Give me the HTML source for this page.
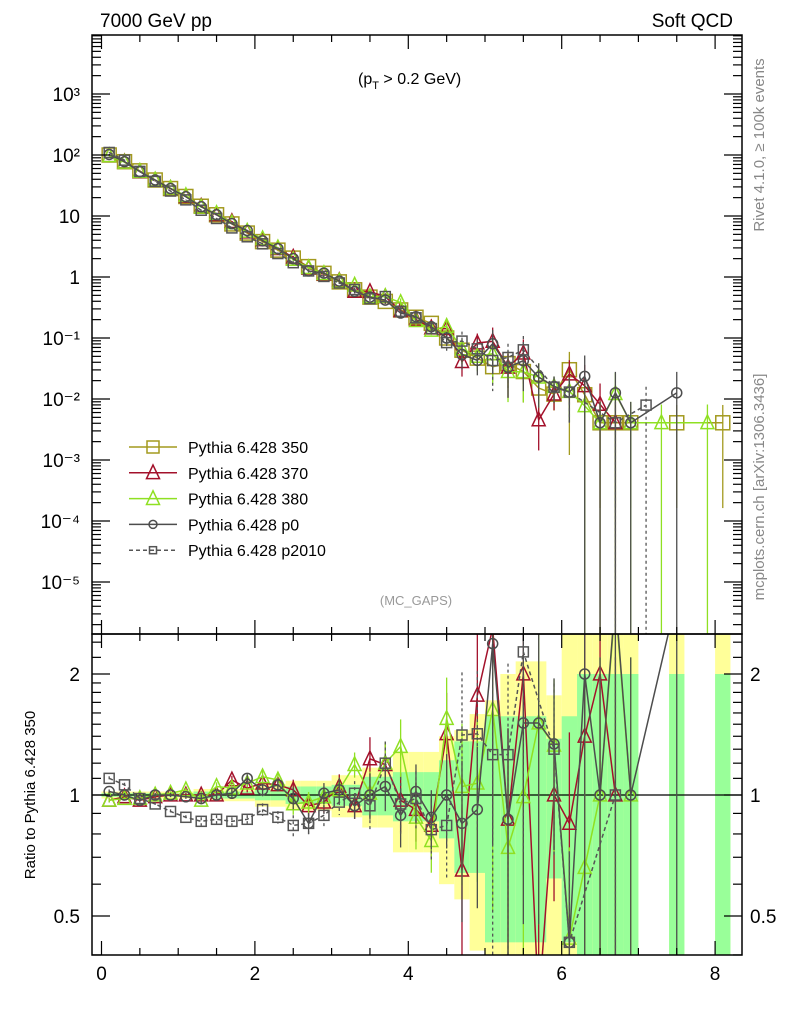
<!DOCTYPE html>
<html><head><meta charset="utf-8"><style>
html,body{margin:0;padding:0;background:#fff;width:786px;height:1024px;overflow:hidden}
svg{display:block;font-family:"Liberation Sans",sans-serif}
</style></head><body>
<svg id="c" width="786" height="1024" viewBox="0 0 786 1024" xmlns="http://www.w3.org/2000/svg">
<defs>
<clipPath id="cm"><rect x="92" y="35" width="650" height="599"/></clipPath>
<clipPath id="cr"><rect x="92" y="634" width="650" height="321"/></clipPath>
</defs>
<g id="bands" clip-path="url(#cr)"></g>
<g id="marks"></g>
<rect x="92" y="35" width="650" height="599" fill="none" stroke="#000" stroke-width="1.5"/>
<rect x="92" y="634" width="650" height="321" fill="none" stroke="#000" stroke-width="1.5"/>
<g id="axes"></g>
<text x="100" y="27" font-size="19">7000 GeV pp</text>
<text x="733" y="27" font-size="19" text-anchor="end">Soft QCD</text>
<text x="358" y="84" font-size="16">(p<tspan font-size="11" dy="5">T</tspan><tspan dy="-5"> &gt; 0.2 GeV)</tspan></text>
<text x="416" y="605" font-size="13" fill="#999" text-anchor="middle">(MC_GAPS)</text>
<text transform="translate(764,145) rotate(-90)" font-size="15" fill="#888" text-anchor="middle">Rivet 4.1.0, ≥ 100k events</text>
<text transform="translate(764,487) rotate(-90)" font-size="15" fill="#888" text-anchor="middle">mcplots.cern.ch [arXiv:1306.3436]</text>
<text transform="translate(35,795) rotate(-90)" font-size="15" text-anchor="middle">Ratio to Pythia 6.428 350</text>
<g id="legend"></g>
</svg>
<script>
const binCenters=[0.1,0.3,0.5,0.7,0.9,1.1,1.3,1.5,1.7,1.9,2.1,2.3,2.5,2.7,2.9,3.1,3.3,3.5,3.7,3.9,4.1,4.3,4.5,4.7,4.9,5.1,5.3,5.5,5.7,5.9,6.1,6.3,6.5,6.7,6.9,7.1,7.3,7.5,7.7,7.9,8.1];
const ref350Log=[2.0,1.89,1.74,1.59,1.45,1.32,1.16,1.02,0.87,0.72,0.58,0.44,0.31,0.17,0.06,-0.08,-0.21,-0.33,-0.40,-0.54,-0.66,-0.76,-1.0,-1.2,-1.33,-1.47,-1.42,-1.55,-1.82,-1.92,-1.52,-1.93,-2.39,-2.39,-2.39,null,null,-2.39,null,null,-2.39];
const statErr=[0.01,0.01,0.01,0.01,0.01,0.01,0.02,0.02,0.02,0.02,0.03,0.03,0.05,0.05,0.05,0.06,0.06,0.11,0.11,0.14,0.14,0.14,0.22,0.36,0.36,0.57,0.57,0.57,0.57,0.38,0.57,1.0,1.0,1.0,1.0,0,0,1.0,0,0,1.0];
const totErr=[0.02,0.02,0.02,0.02,0.02,0.02,0.035,0.035,0.035,0.035,0.065,0.065,0.085,0.085,0.085,0.12,0.12,0.17,0.17,0.28,0.28,0.28,0.40,0.45,0.59,0.72,1.0,1.15,1.15,0.77,1.6,1.6,1.6,1.6,1.6,0,0,1.6,0,0,1.6];
const ratio370=[0.97,0.99,0.97,0.99,1.0,1.0,1.0,1.0,1.09,1.04,1.07,1.06,1.03,0.94,0.96,1.05,0.94,1.23,1.19,0.97,0.92,0.84,1.42,0.65,1.77,2.6,0.87,2.0,0.3,1.0,0.85,1.4,2.0,1.0,null,null,null,null,null,null,null];
const ratio380=[0.97,0.98,0.98,1.0,1.01,1.03,0.97,1.05,1.04,1.07,1.11,1.09,0.95,0.96,0.99,1.03,1.19,1.01,1.2,1.32,0.88,0.77,1.55,1.05,1.07,1.63,0.74,0.99,1.51,1.33,0.44,0.66,1.0,3.0,1.0,null,null,null,null,null,null];
const ratioP0=[1.02,1.0,0.97,1.0,1.0,0.99,0.98,1.0,1.01,1.10,1.03,1.06,0.98,0.85,1.01,1.03,0.94,1.0,1.05,0.89,1.02,0.88,1.0,0.85,0.92,2.38,0.87,1.51,1.51,1.34,0.43,2.0,1.0,3.1,1.0,null,null,3.1,null,null,null];
const ratioP2010=[1.10,1.06,0.98,0.95,0.91,0.88,0.86,0.87,0.86,0.87,0.92,0.88,0.84,0.85,0.89,0.96,1.01,0.94,1.2,0.95,0.98,0.82,0.84,1.41,1.42,1.26,1.26,2.27,null,1.3,0.43,null,null,1.0,null,null,null,null,null,null,null];
const extraMain380=[[7.3,-2.39],[7.9,-2.39]];
const extraMainP2010=[[7.1,-2.1]];
const xTicks=[0,2,4,6,8];
const mainTickExp=[3,2,1,0,-1,-2,-3,-4,-5];
const mainTickLabels=["10³","10²","10","1","10⁻¹","10⁻²","10⁻³","10⁻⁴","10⁻⁵"];
const ratioTicks=[0.5,1,2];
const ratioTickLabels=["0.5","1","2"];

const NS="http://www.w3.org/2000/svg";
const X=x=>101.5+76.7*x;
const YM=L=>277-61*L;
const YR=r=>795-121*Math.log2(r);
function mk(tag,attrs,parent){const e=document.createElementNS(NS,tag);for(const k in attrs)e.setAttribute(k,attrs[k]);parent.appendChild(e);return e;}
const svg=document.getElementById('c');
const marks=document.getElementById('marks');
const axes=document.getElementById('axes');
const gm=mk('g',{'clip-path':'url(#cm)'},marks);


const gr=mk('g',{'clip-path':'url(#cr)'},marks);



const bands=document.getElementById('bands');
binCenters.forEach((x,i)=>{
  if(ref350Log[i]===null)return;
  [[totErr[i],'#ffff99','band-total'],[statErr[i],'#99ff99','band-stat']].forEach(([e,col,nm])=>{
    const lo=Math.max(1-e,0.01), hi=1+e;
    const r=mk('rect',{x:X(x-0.1),y:YR(hi),width:X(x+0.1)-X(x-0.1),height:YR(lo)-YR(hi),fill:col},bands);
    
    
  });
});
const one=mk('line',{x1:92,x2:742,y1:YR(1),y2:YR(1),stroke:'#000','stroke-width':1.2},gr);



function marker(g,type,cx,cy,col,sz){
  let e;
  if(type==='sq')e=mk('rect',{x:cx-sz/2,y:cy-sz/2,width:sz,height:sz,fill:'none',stroke:col,'stroke-width':1.5},g);
  else if(type==='tri')e=mk('polygon',{points:`${cx},${cy-sz*0.6} ${cx-sz/2},${cy+sz*0.45} ${cx+sz/2},${cy+sz*0.45}`,fill:'none',stroke:col,'stroke-width':1.5},g);
  else e=mk('circle',{cx:cx,cy:cy,r:sz/2,fill:'none',stroke:col,'stroke-width':1.5},g);
  return e;
}
function drawSeries(g,pts,col,type,sz,dash,name,yf){
  const sg=mk('g',{},g);
  
  
  let d='';
  pts.forEach(p=>{d+=(d?'L':'M')+X(p.x)+','+yf(p.v)});
  const path=mk('path',{d:d,fill:'none',stroke:col,'stroke-width':1.5},sg);
  if(dash)path.setAttribute('stroke-dasharray','4,3');
  
  
  pts.forEach(p=>{
    const bar=mk('line',{x1:X(p.x),x2:X(p.x),y1:yf(p.hi),y2:yf(p.lo),stroke:col,'stroke-width':1.3},sg);
    if(dash)bar.setAttribute('stroke-dasharray','3,3');
    
    
    const m=marker(sg,type,X(p.x),yf(p.v),col,sz);
    
    
  });
}
const series=[
  {name:'pythia-370',r:ratio370,col:'#a3112b',type:'tri',sz:13,dash:false,extra:[]},
  {name:'pythia-380',r:ratio380,col:'#8fe022',type:'tri',sz:13,dash:false,extra:extraMain380},
  {name:'pythia-p0',r:ratioP0,col:'#4d4d4d',type:'circ',sz:10,dash:false,extra:[]},
  {name:'pythia-p2010',r:ratioP2010,col:'#555',type:'sq',sz:10,dash:true,extra:extraMainP2010}
];
const refPts=[];
binCenters.forEach((x,i)=>{if(ref350Log[i]===null)return;const e=totErr[i];
  refPts.push({x:x,v:ref350Log[i],hi:ref350Log[i]+Math.log10(1+e*0.6),lo:e*0.6>=0.99?-9:ref350Log[i]+Math.log10(1-e*0.6)});});
drawSeries(gm,refPts,'#a39a1f','sq',14,false,'pythia-350-main',YM);
series.forEach(s=>{
  const pts=[];
  binCenters.forEach((x,i)=>{const r=s.r[i];if(r===null||ref350Log[i]===null)return;
    const v=ref350Log[i]+Math.log10(r);const e=statErr[i]*1.2;
    pts.push({x:x,v:v,hi:v+Math.log10(1+e),lo:e>=0.99?-9:v+Math.log10(1-e)});});
  s.extra.forEach(p=>pts.push({x:p[0],v:p[1],hi:p[1]+0.3,lo:-9}));
  pts.sort((a,b)=>a.x-b.x);
  drawSeries(gm,pts,s.col,s.type,s.sz,s.dash,s.name+'-main',YM);
});
series.forEach(s=>{
  const pts=[];
  binCenters.forEach((x,i)=>{const r=s.r[i];if(r===null)return;const e=statErr[i]*1.2;
    pts.push({x:x,v:r,hi:r*(1+e),lo:Math.max(r*(1-e),0.01)});});
  drawSeries(gr,pts,s.col,s.type,s.sz,s.dash,s.name+'-ratio',YR);
});

function tick(x1,y1,x2,y2,nm){const t=mk('line',{x1:x1,y1:y1,x2:x2,y2:y2,stroke:'#000','stroke-width':1.2},axes);}
for(let v=0;v<=8.4;v+=0.5){
  const big=Math.abs(v/2-Math.round(v/2))<1e-6, len=big?14:7;
  const px=X(v);
  tick(px,955,px,955-len,'x-tick');tick(px,634,px,634+len,'x-tick');
  tick(px,634,px,634-len,'x-tick');tick(px,35,px,35+len,'x-tick');
}
xTicks.forEach(v=>{const t=mk('text',{x:X(v),y:980,'font-size':19,'text-anchor':'middle'},axes);t.textContent=v;
  });
for(let ex=-6;ex<=3;ex++){
  for(let m=1;m<10;m++){const L=ex+Math.log10(m);const y=YM(L);if(y<35||y>634)continue;
    const len=m===1?18:9;tick(92,y,92+len,y,'y-tick');tick(742,y,742-len,y,'y-tick');}
}
mainTickExp.forEach((ex,i)=>{const t=mk('text',{x:80,y:YM(ex)+7,'font-size':19,'text-anchor':'end'},axes);t.textContent=mainTickLabels[i];
  });
[0.4,0.5,0.6,0.7,0.8,0.9,1,1.1,1.2,1.3,1.4,1.5,1.6,1.7,1.8,1.9,2,2.2,2.4].forEach(r=>{
  const y=YR(r);if(y<634||y>955)return;const big=ratioTicks.includes(r);const len=big?18:9;
  tick(92,y,92+len,y,'ratio-y-tick');tick(742,y,742-len,y,'ratio-y-tick');});
ratioTicks.forEach((r,i)=>{
  const t=mk('text',{x:80,y:YR(r)+7,'font-size':19,'text-anchor':'end'},axes);t.textContent=ratioTickLabels[i];
  
  const t2=mk('text',{x:750,y:YR(r)+7,'font-size':19},axes);t2.textContent=ratioTickLabels[i];
  });

const leg=document.getElementById('legend');
const legItems=[['Pythia 6.428 350','#a39a1f','sq',12,false],['Pythia 6.428 370','#a3112b','tri',13,false],['Pythia 6.428 380','#8fe022','tri',13,false],['Pythia 6.428 p0','#4d4d4d','circ',8,false],['Pythia 6.428 p2010','#555','sq',7,true]];
legItems.forEach((it,i)=>{
  const y=447+25.8*i;
  const g=mk('g',{},leg);
  
  
  const l=mk('line',{x1:129,x2:177,y1:y,y2:y,stroke:it[1],'stroke-width':1.5},g);
  if(it[4])l.setAttribute('stroke-dasharray','4,3');
  marker(g,it[2],153,y,it[1],it[3]);
  const t=mk('text',{x:188,y:y+6,'font-size':16},g);t.textContent=it[0];
});
</script>
</body></html>
